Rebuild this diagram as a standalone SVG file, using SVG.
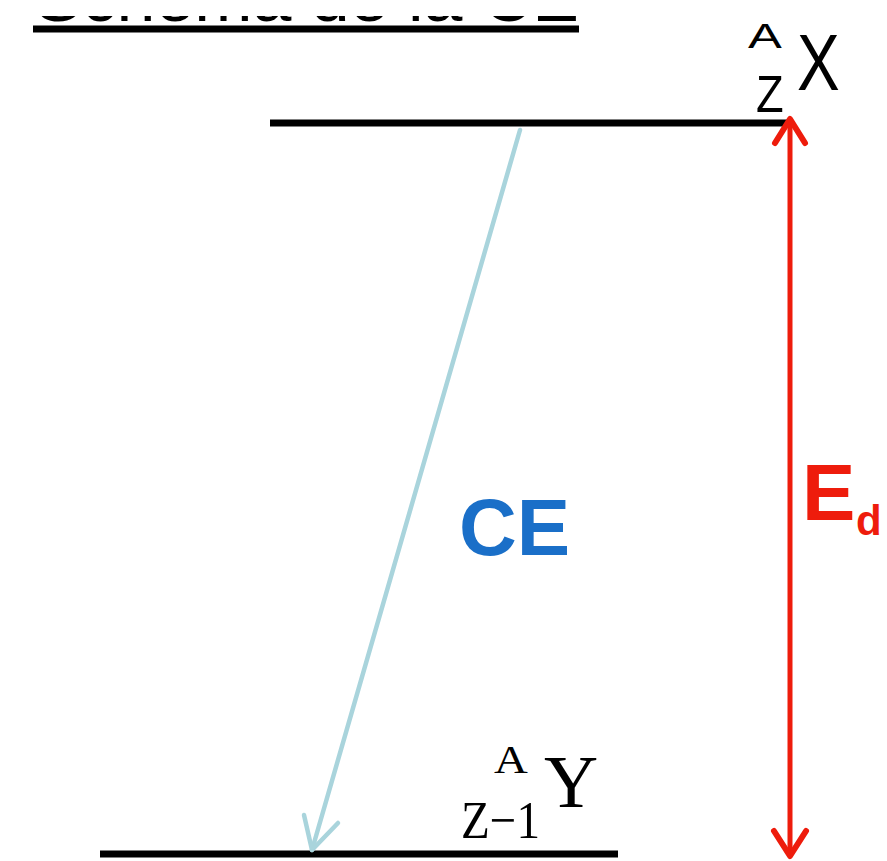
<svg xmlns="http://www.w3.org/2000/svg" width="887" height="861" viewBox="0 0 887 861">
<style>
.lvl{stroke:#000;stroke-width:7;fill:none}
.sans{font-family:"Liberation Sans",Arial,sans-serif}
.serif{font-family:"Liberation Serif","Times New Roman",serif}
</style>
<defs>
<clipPath id="cut"><rect x="0" y="16" width="887" height="10"/></clipPath>
</defs>
<rect width="887" height="861" fill="#fff"/>
<g id="title" clip-path="url(#cut)">
<text class="sans" x="35" y="20.5" font-size="70" textLength="544" lengthAdjust="spacingAndGlyphs">Schéma de la CE</text>
</g>
<g id="level-top"><line class="lvl" x1="33" y1="29" x2="579" y2="29"/></g>
<g id="level-X">
<line class="lvl" x1="270" y1="123" x2="790" y2="123"/>
<text class="sans" font-size="35" transform="translate(748 48) scale(1.45 1)">A</text>
<text class="sans" font-size="52" transform="translate(756 112) scale(0.87 1)">Z</text>
<text class="sans" font-size="80" transform="translate(797 90) scale(0.8 1)">X</text>
</g>
<g id="level-Y">
<line class="lvl" x1="100" y1="854" x2="618" y2="854"/>
<text class="serif" font-size="39" transform="translate(494 773) scale(1.2 1)">A</text>
<text class="serif" x="544" y="807" font-size="75">Y</text>
<text class="serif" x="461" y="838" font-size="53" textLength="79" lengthAdjust="spacingAndGlyphs">Z−1</text>
</g>
<g id="connectors">
<g id="ce-arrow" stroke="#a9d4dc" stroke-width="4.5" fill="none" stroke-linecap="round" stroke-linejoin="round">
<line x1="520" y1="130" x2="312" y2="850"/>
<polyline points="304,815 312,850 338,823"/>
</g>
<g id="ed-arrow" stroke="#ee1c0c" stroke-width="5" fill="none" stroke-linecap="round" stroke-linejoin="round">
<line x1="790" y1="120" x2="790" y2="855"/>
<polyline points="775,143 790,119 805,143" stroke-width="6"/>
<polyline points="774,831 790,856 806,831" stroke-width="6"/>
</g>
</g>
<text class="sans" x="459" y="555" font-size="80" font-weight="bold" fill="#1a6fc8">CE</text>
<text class="sans" x="802" y="520" font-size="80" font-weight="bold" fill="#ee1c0c">E</text>
<text class="sans" x="856" y="535" font-size="42" font-weight="bold" fill="#ee1c0c">d</text>
</svg>
